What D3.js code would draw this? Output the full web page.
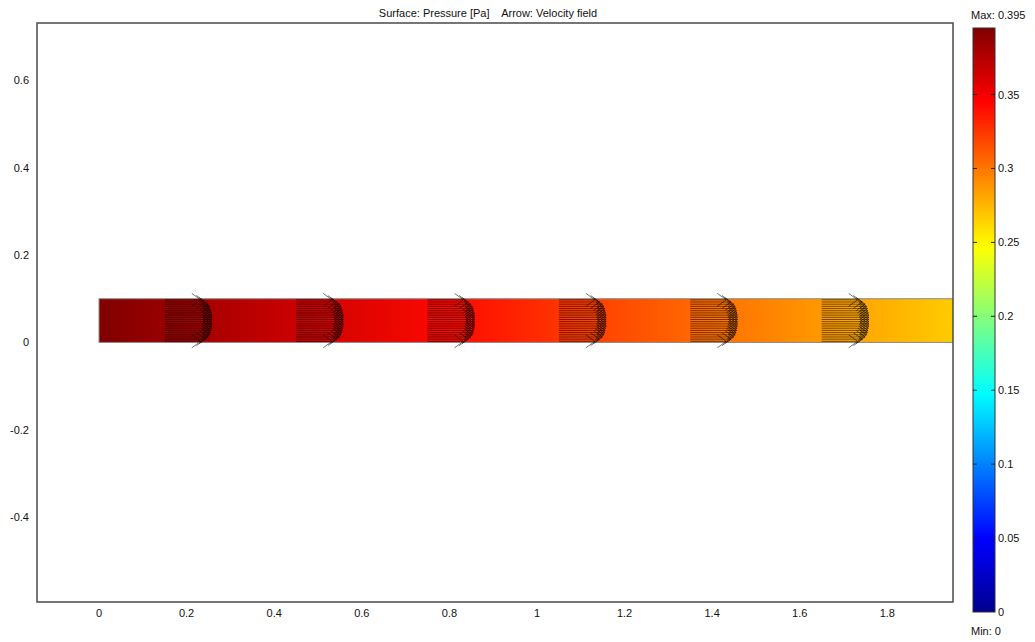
<!DOCTYPE html>
<html>
<head>
<meta charset="utf-8">
<script src="https://cdn.jsdelivr.net/npm/d3@7"></script>
<style>
  html, body { margin: 0; padding: 0; background: #fff; }
  svg { display: block; }
  text { font-family: "Liberation Sans", Arial, sans-serif; font-size: 11px; fill: #111; }
</style>
</head>
<body>
<svg id="chart" width="1035" height="642"></svg>
<script>
// Axis ticks
const xTicks = [0, 0.2, 0.4, 0.6, 0.8, 1, 1.2, 1.4, 1.6, 1.8];
const yTicks = [-0.4, -0.2, 0, 0.2, 0.4, 0.6];
const colorTicks = [0, 0.05, 0.1, 0.15, 0.2, 0.25, 0.3, 0.35];

// Channel geometry (m)
const channelX = [0, 6];
const channelY = [0, 0.1];

// Surface pressure along the channel (Pa)
const pressureX = [0, 0.4, 0.8, 1.2, 1.6, 1.95, 6];
const pressureVals = [0.395, 0.369, 0.342, 0.316, 0.290, 0.267, 0];
const pressureRange = [0, 0.395];

// Velocity arrows: stations, rows across the channel and relative speed per row
const arrowStationsX = [0.15, 0.45, 0.75, 1.05, 1.35, 1.65, 1.95];
const arrowRowsY = [0.0025, 0.0075, 0.0125, 0.0175, 0.0225, 0.0275, 0.0325, 0.0375, 0.0425, 0.0475,
                    0.0525, 0.0575, 0.0625, 0.0675, 0.0725, 0.0775, 0.0825, 0.0875, 0.0925, 0.0975];
const arrowSpeed = [0.76, 0.86, 0.92, 0.95, 0.97, 0.98, 0.99, 1.0, 1.0, 1.0,
                    1.0, 1.0, 1.0, 0.99, 0.98, 0.97, 0.95, 0.92, 0.86, 0.76];
const arrowUnit = 0.108; // arrow length for speed 1, in axis units

// Jet-style colour map stops
const jetStops = [0, 0.125, 0.375, 0.625, 0.875, 1];
const jetColors = ["#00008f", "#0000ff", "#00ffff", "#ffff00", "#ff0000", "#800000"];

const svg = d3.select("#chart");

const plot = { left: 37, top: 23, right: 953, bottom: 602 };
const x = d3.scaleLinear().domain([-0.1416, 1.95]).range([plot.left, plot.right]);
const y = d3.scaleLinear().domain([-0.594, 0.731]).range([plot.bottom, plot.top]);

const jet = d3.scaleLinear().domain(jetStops).range(jetColors).interpolate(d3.interpolateRgb);
const colorOf = v => jet((v - pressureRange[0]) / (pressureRange[1] - pressureRange[0]));

const defs = svg.append("defs");
defs.append("clipPath").attr("id", "plotClip")
  .append("rect")
  .attr("x", plot.left).attr("y", plot.top)
  .attr("width", plot.right - plot.left).attr("height", plot.bottom - plot.top);

// Pressure gradient along x
const pg = defs.append("linearGradient").attr("id", "pressureGrad")
  .attr("gradientUnits", "userSpaceOnUse")
  .attr("x1", x(channelX[0])).attr("x2", x(channelX[1]))
  .attr("y1", 0).attr("y2", 0);
pg.selectAll("stop").data(pressureX.map((px, i) => ({ px, v: pressureVals[i] })))
  .join("stop")
  .attr("offset", d => (d.px - channelX[0]) / (channelX[1] - channelX[0]))
  .attr("stop-color", d => colorOf(d.v));

// Title
svg.append("text")
  .attr("x", 488).attr("y", 17)
  .attr("text-anchor", "middle")
  .style("white-space", "pre")
  .text("Surface: Pressure [Pa]    Arrow: Velocity field");

const inner = svg.append("g").attr("clip-path", "url(#plotClip)");

// Channel surface
inner.append("rect")
  .attr("x", x(channelX[0])).attr("y", y(channelY[1]))
  .attr("width", x(channelX[1]) - x(channelX[0]))
  .attr("height", y(channelY[0]) - y(channelY[1]))
  .attr("fill", "url(#pressureGrad)")
  .attr("stroke", "#8a8a8a").attr("stroke-width", 1);

// Velocity arrows
const arrows = [];
arrowStationsX.forEach(sx => {
  arrowRowsY.forEach((ry, i) => arrows.push({ sx, ry, u: arrowSpeed[i] }));
});
const headLen = 11, headAng = 36 * Math.PI / 180;
const ag = inner.append("g")
  .attr("stroke", "#000").attr("stroke-width", 0.9).attr("stroke-opacity", 0.6)
  .attr("fill", "none");
ag.selectAll("path").data(arrows).join("path")
  .attr("d", d => {
    const x0 = x(d.sx), x1 = x(d.sx + d.u * arrowUnit), yy = y(d.ry);
    const dx = headLen * Math.cos(headAng), dy = headLen * Math.sin(headAng);
    return `M${x0},${yy}L${x1},${yy}M${x1 - dx},${yy - dy}L${x1},${yy}L${x1 - dx},${yy + dy}`;
  });

// Plot frame
svg.append("rect")
  .attr("x", plot.left).attr("y", plot.top)
  .attr("width", plot.right - plot.left).attr("height", plot.bottom - plot.top)
  .attr("fill", "none").attr("stroke", "#4a4a4a").attr("stroke-width", 1.5);

const fmt = v => String(+v.toFixed(3));

// Axis labels
svg.append("g").selectAll("text").data(xTicks).join("text")
  .attr("x", d => x(d)).attr("y", 617)
  .attr("text-anchor", "middle")
  .text(fmt);
svg.append("g").selectAll("text").data(yTicks).join("text")
  .attr("x", 29).attr("y", d => y(d) + 4)
  .attr("text-anchor", "end")
  .text(fmt);

// Colour bar
const cb = { left: 973, right: 995, top: 28, bottom: 612 };
const cy = d3.scaleLinear().domain(pressureRange).range([cb.bottom, cb.top]);
const cg = defs.append("linearGradient").attr("id", "cbGrad")
  .attr("x1", 0).attr("x2", 0).attr("y1", 1).attr("y2", 0);
cg.selectAll("stop").data(jetStops.map((s, i) => ({ s, c: jetColors[i] })))
  .join("stop")
  .attr("offset", d => d.s)
  .attr("stop-color", d => d.c);
svg.append("rect")
  .attr("x", cb.left).attr("y", cb.top)
  .attr("width", cb.right - cb.left).attr("height", cb.bottom - cb.top)
  .attr("fill", "url(#cbGrad)")
  .attr("stroke", "#333").attr("stroke-width", 1);
const ct = svg.append("g");
ct.selectAll("line.l").data(colorTicks.slice(1)).join("line").attr("class", "l")
  .attr("x1", cb.left).attr("x2", cb.left + 4)
  .attr("y1", d => cy(d)).attr("y2", d => cy(d))
  .attr("stroke", "#222").attr("stroke-width", 1);
ct.selectAll("line.r").data(colorTicks.slice(1)).join("line").attr("class", "r")
  .attr("x1", cb.right - 4).attr("x2", cb.right)
  .attr("y1", d => cy(d)).attr("y2", d => cy(d))
  .attr("stroke", "#222").attr("stroke-width", 1);
ct.selectAll("text").data(colorTicks).join("text")
  .attr("x", cb.right + 3).attr("y", d => cy(d) + 4)
  .text(fmt);

svg.append("text").attr("x", 971).attr("y", 19).text("Max: " + fmt(pressureRange[1]));
svg.append("text").attr("x", 971).attr("y", 635).text("Min: " + fmt(pressureRange[0]));
</script>
</body>
</html>
